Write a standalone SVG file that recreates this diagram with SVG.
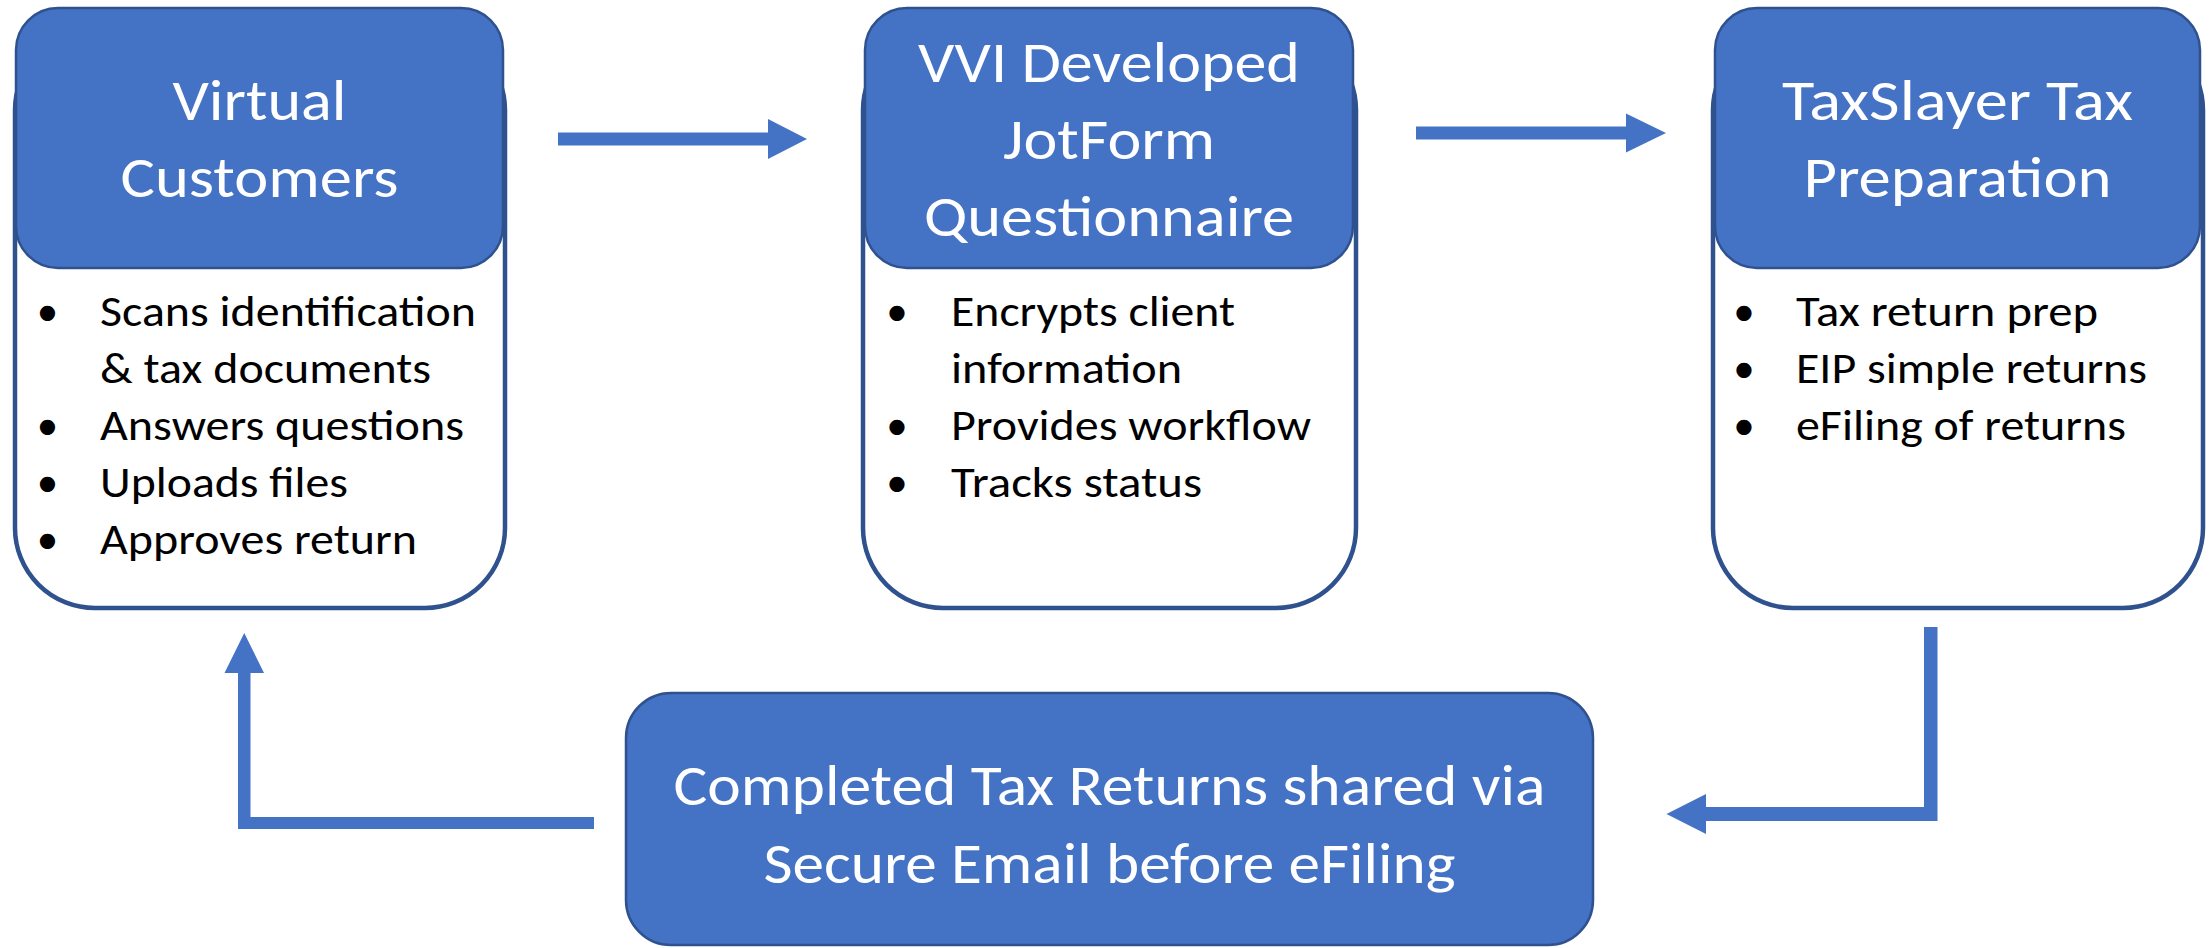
<svg xmlns="http://www.w3.org/2000/svg" width="2209" height="948" viewBox="0 0 2209 948">
<style>
.outer{fill:#FFFFFF;stroke:#2F528F;stroke-width:4.5}
.head{fill:#4472C4;stroke:#2F528F;stroke-width:2.5}
.ht{font-family:Carlito,Calibri,Lato,sans-serif;font-size:57px;fill:#FFFFFF;text-anchor:middle}
.bt{font-family:Carlito,Calibri,Lato,sans-serif;font-size:43px;fill:#000000}
.bu{font-family:Carlito,Calibri,Lato,sans-serif;font-size:43px;fill:#000000;text-anchor:middle}
.arr{fill:#4472C4}
</style>
<rect x="0" y="0" width="2209" height="948" fill="#FFFFFF"/>
<g id="connectors">
<polygon class="arr" points="558,132.5 768,132.5 768,119 807,139 768,159 768,145.5 558,145.5"/>
<polygon class="arr" points="1416,126.5 1626,126.5 1626,113.5 1666,133 1626,152.5 1626,139.5 1416,139.5"/>
<polygon class="arr" points="1924,627 1937.5,627 1937.5,821 1706,821 1706,834 1666.5,814 1706,794 1706,807 1924,807"/>
<polygon class="arr" points="594,817 594,829 238,829 238,673 224.5,673 244.25,633 264,673 250.5,673 250.5,817"/>
</g>
<g id="virtual-customers">
<rect class="outer" x="15" y="30" width="490" height="578" rx="80"/>
<rect class="head" x="16" y="8" width="487" height="260" rx="42"/>
<text class="ht" x="259.5" y="120" textLength="174" lengthAdjust="spacingAndGlyphs">Virtual</text>
<text class="ht" x="259.5" y="197" textLength="278" lengthAdjust="spacingAndGlyphs">Customers</text>
<text class="bu" x="47.5" y="326">•</text>
<text class="bt" x="100" y="326" textLength="376" lengthAdjust="spacingAndGlyphs">Scans identification</text>
<text class="bt" x="100" y="383" textLength="331" lengthAdjust="spacingAndGlyphs">&amp; tax documents</text>
<text class="bu" x="47.5" y="440">•</text>
<text class="bt" x="100" y="440" textLength="364" lengthAdjust="spacingAndGlyphs">Answers questions</text>
<text class="bu" x="47.5" y="497">•</text>
<text class="bt" x="100" y="497" textLength="248" lengthAdjust="spacingAndGlyphs">Uploads files</text>
<text class="bu" x="47.5" y="554">•</text>
<text class="bt" x="100" y="554" textLength="317" lengthAdjust="spacingAndGlyphs">Approves return</text>
</g>
<g id="jotform-questionnaire">
<rect class="outer" x="863" y="30" width="493" height="578" rx="80"/>
<rect class="head" x="865" y="8" width="488" height="260" rx="42"/>
<text class="ht" x="1109" y="82" textLength="382" lengthAdjust="spacingAndGlyphs">VVI Developed</text>
<text class="ht" x="1109" y="159" textLength="212" lengthAdjust="spacingAndGlyphs">JotForm</text>
<text class="ht" x="1109" y="236" textLength="370" lengthAdjust="spacingAndGlyphs">Questionnaire</text>
<text class="bu" x="897" y="326">•</text>
<text class="bt" x="951" y="326" textLength="284" lengthAdjust="spacingAndGlyphs">Encrypts client</text>
<text class="bt" x="951" y="383" textLength="231" lengthAdjust="spacingAndGlyphs">information</text>
<text class="bu" x="897" y="440">•</text>
<text class="bt" x="951" y="440" textLength="360" lengthAdjust="spacingAndGlyphs">Provides workflow</text>
<text class="bu" x="897" y="497">•</text>
<text class="bt" x="951" y="497" textLength="251" lengthAdjust="spacingAndGlyphs">Tracks status</text>
</g>
<g id="taxslayer-preparation">
<rect class="outer" x="1713" y="30" width="490" height="578" rx="80"/>
<rect class="head" x="1715" y="8" width="485" height="260" rx="42"/>
<text class="ht" x="1957.5" y="120" textLength="351" lengthAdjust="spacingAndGlyphs">TaxSlayer Tax</text>
<text class="ht" x="1957.5" y="197" textLength="308" lengthAdjust="spacingAndGlyphs">Preparation</text>
<text class="bu" x="1744" y="326">•</text>
<text class="bt" x="1796" y="326" textLength="302" lengthAdjust="spacingAndGlyphs">Tax return prep</text>
<text class="bu" x="1744" y="383">•</text>
<text class="bt" x="1796" y="383" textLength="351" lengthAdjust="spacingAndGlyphs">EIP simple returns</text>
<text class="bu" x="1744" y="440">•</text>
<text class="bt" x="1796" y="440" textLength="330" lengthAdjust="spacingAndGlyphs">eFiling of returns</text>
</g>
<g id="completed-returns">
<rect class="head" x="626" y="693" width="967" height="252" rx="45"/>
<text class="ht" x="1109.5" y="805" textLength="872" lengthAdjust="spacingAndGlyphs">Completed Tax Returns shared via</text>
<text class="ht" x="1109.5" y="883" textLength="692" lengthAdjust="spacingAndGlyphs">Secure Email before eFiling</text>
</g>
</svg>
